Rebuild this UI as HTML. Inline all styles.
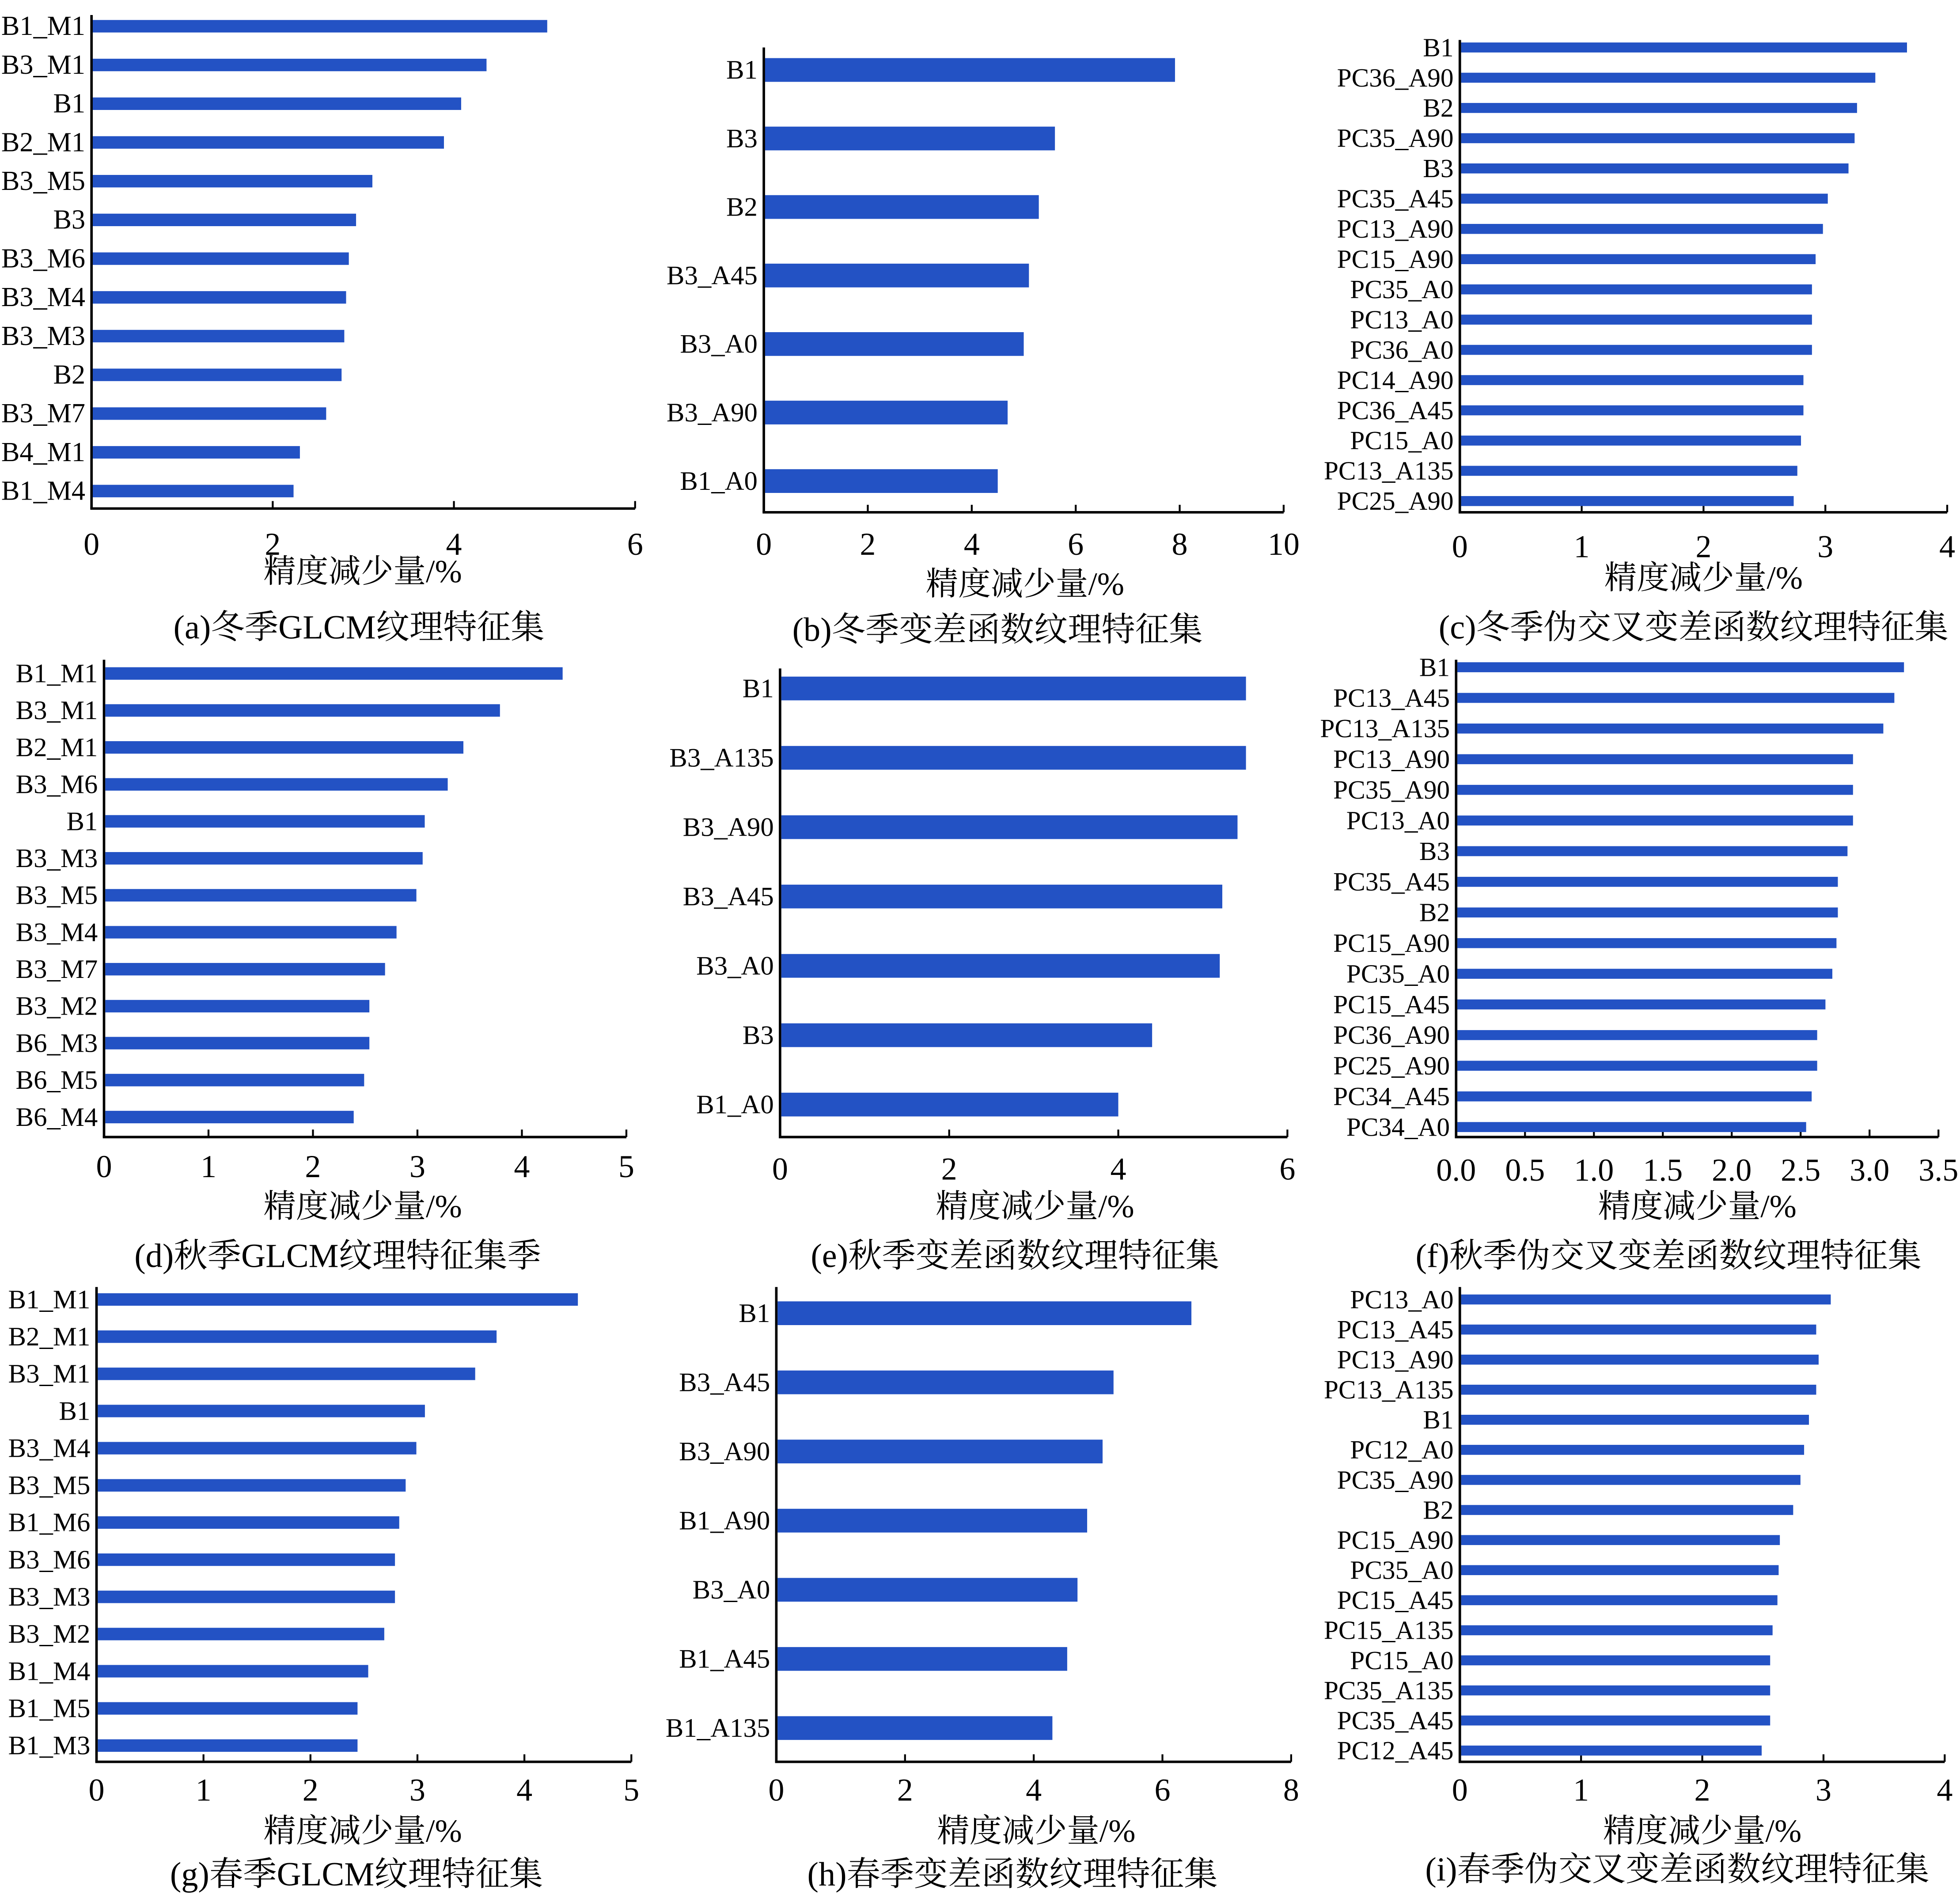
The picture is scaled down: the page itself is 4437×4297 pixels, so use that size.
<!DOCTYPE html>
<html><head><meta charset="utf-8"><style>
html,body{margin:0;padding:0;background:#fff;}
svg{display:block;}
text{font-family:"Liberation Serif","Noto Serif CJK SC",serif;fill:#000;}
</style></head><body>
<svg id="fig" width="4437" height="4297" viewBox="0 0 1568 1519" xmlns="http://www.w3.org/2000/svg"></svg>
<script>
// ---- data ----
const catsA=["B1_M1","B3_M1","B1","B2_M1","B3_M5","B3","B3_M6","B3_M4","B3_M3","B2","B3_M7","B4_M1","B1_M4"];
const valsA=[5.03,4.36,4.08,3.89,3.10,2.92,2.84,2.81,2.79,2.76,2.59,2.30,2.23];
const ticksA=["0","2","4","6"];
const catsB=["B1","B3","B2","B3_A45","B3_A0","B3_A90","B1_A0"];
const valsB=[7.91,5.6,5.29,5.1,5.0,4.69,4.5];
const ticksB=["0","2","4","6","8","10"];
const catsC=["B1","PC36_A90","B2","PC35_A90","B3","PC35_A45","PC13_A90","PC15_A90","PC35_A0","PC13_A0","PC36_A0","PC14_A90","PC36_A45","PC15_A0","PC13_A135","PC25_A90"];
const valsC=[3.67,3.41,3.26,3.24,3.19,3.02,2.98,2.92,2.89,2.89,2.89,2.82,2.82,2.80,2.77,2.74];
const ticksC=["0","1","2","3","4"];
const catsD=["B1_M1","B3_M1","B2_M1","B3_M6","B1","B3_M3","B3_M5","B3_M4","B3_M7","B3_M2","B6_M3","B6_M5","B6_M4"];
const valsD=[4.39,3.79,3.44,3.29,3.07,3.05,2.99,2.80,2.69,2.54,2.54,2.49,2.39];
const ticksD=["0","1","2","3","4","5"];
const catsE=["B1","B3_A135","B3_A90","B3_A45","B3_A0","B3","B1_A0"];
const valsE=[5.51,5.51,5.41,5.23,5.2,4.40,4.0];
const ticksE=["0","2","4","6"];
const catsF=["B1","PC13_A45","PC13_A135","PC13_A90","PC35_A90","PC13_A0","B3","PC35_A45","B2","PC15_A90","PC35_A0","PC15_A45","PC36_A90","PC25_A90","PC34_A45","PC34_A0"];
const valsF=[3.25,3.18,3.10,2.88,2.88,2.88,2.84,2.77,2.77,2.76,2.73,2.68,2.62,2.62,2.58,2.54];
const ticksF=["0.0","0.5","1.0","1.5","2.0","2.5","3.0","3.5"];
const catsG=["B1_M1","B2_M1","B3_M1","B1","B3_M4","B3_M5","B1_M6","B3_M6","B3_M3","B3_M2","B1_M4","B1_M5","B1_M3"];
const valsG=[4.50,3.74,3.54,3.07,2.99,2.89,2.83,2.79,2.79,2.69,2.54,2.44,2.44];
const ticksG=["0","1","2","3","4","5"];
const catsH=["B1","B3_A45","B3_A90","B1_A90","B3_A0","B1_A45","B1_A135"];
const valsH=[6.45,5.24,5.07,4.83,4.68,4.52,4.29];
const ticksH=["0","2","4","6","8"];
const catsI=["PC13_A0","PC13_A45","PC13_A90","PC13_A135","B1","PC12_A0","PC35_A90","B2","PC15_A90","PC35_A0","PC15_A45","PC15_A135","PC15_A0","PC35_A135","PC35_A45","PC12_A45"];
const valsI=[3.06,2.94,2.96,2.94,2.88,2.84,2.81,2.75,2.64,2.63,2.62,2.58,2.56,2.56,2.56,2.49];
const ticksI=["0","1","2","3","4"];

const NS="http://www.w3.org/2000/svg";
const svg=document.getElementById('fig');
function mk(tag,attrs,parent){const e=document.createElementNS(NS,tag);for(const k in attrs)e.setAttribute(k,attrs[k]);(parent||svg).appendChild(e);return e;}

const panels=[
 {id:"a",cats:catsA,vals:valsA,ticks:ticksA,x0:73,x1:508,top:12,bot:407,y0:21,y1:393,bh:10,ty:444,xl:[290,466],cap:[287,511],capT:"(a)冬季GLCM纹理特征集",fs:22},
 {id:"b",cats:catsB,vals:valsB,ticks:ticksB,x0:611,x1:1027,top:38,bot:410,y0:56,y1:385,bh:19,ty:444,xl:[820,476],cap:[798,513],capT:"(b)冬季变差函数纹理特征集",fs:21.5},
 {id:"c",cats:catsC,vals:valsC,ticks:ticksC,x0:1168,x1:1558,top:32,bot:410,y0:38,y1:401,bh:8,ty:446,xl:[1363,471],cap:[1355,511],capT:"(c)冬季伪交叉变差函数纹理特征集",fs:21},
 {id:"d",cats:catsD,vals:valsD,ticks:ticksD,x0:83,x1:501,top:528,bot:910,y0:539,y1:894,bh:10,ty:942,xl:[290,974],cap:[270,1014],capT:"(d)秋季GLCM纹理特征集季",fs:21.5},
 {id:"e",cats:catsE,vals:valsE,ticks:ticksE,x0:624,x1:1030,top:535,bot:910,y0:551,y1:884,bh:19,ty:944,xl:[828,974],cap:[812,1014],capT:"(e)秋季变差函数纹理特征集",fs:21.5},
 {id:"f",cats:catsF,vals:valsF,ticks:ticksF,x0:1165,x1:1551,top:528,bot:910,y0:534,y1:902,bh:8,ty:945,xl:[1358,974],cap:[1335,1014],capT:"(f)秋季伪交叉变差函数纹理特征集",fs:21},
 {id:"g",cats:catsG,vals:valsG,ticks:ticksG,x0:77,x1:505,top:1030,bot:1410,y0:1040,y1:1397,bh:10,ty:1441,xl:[290,1474],cap:[285,1509],capT:"(g)春季GLCM纹理特征集",fs:21.5},
 {id:"h",cats:catsH,vals:valsH,ticks:ticksH,x0:621,x1:1033,top:1030,bot:1410,y0:1051,y1:1383,bh:19,ty:1441,xl:[829,1474],cap:[810,1509],capT:"(h)春季变差函数纹理特征集",fs:21.5},
 {id:"i",cats:catsI,vals:valsI,ticks:ticksI,x0:1168,x1:1556,top:1030,bot:1410,y0:1040,y1:1401,bh:8,ty:1441,xl:[1362,1474],cap:[1342,1505],capT:"(i)春季伪交叉变差函数纹理特征集",fs:21}
];

panels.forEach(p=>{
 const g=mk('g',{});
 
 
 const tmax=parseFloat(p.ticks[p.ticks.length-1]);
 const xs=v=>p.x0+(v/tmax)*(p.x1-p.x0);
 const n=p.cats.length;
 const ys=i=>p.y0+(n>1?i*(p.y1-p.y0)/(n-1):0);
 const ya=mk('line',{x1:p.x0,y1:p.top,x2:p.x0,y2:p.bot,stroke:'#000','stroke-width':2},g);
 
 
 const xa=mk('line',{x1:p.x0-1,y1:p.bot,x2:p.x1,y2:p.bot,stroke:'#000','stroke-width':2},g);
 
 
 p.ticks.forEach((t,k)=>{
  const x=xs(parseFloat(t));
  if(k>0){const tk=mk('line',{x1:x,y1:p.bot,x2:x,y2:p.bot-6,stroke:'#000','stroke-width':1.5},g);
   
   }
  const tl=mk('text',{x:x,y:p.ty,'text-anchor':'middle','font-size':25.5},g);
  tl.textContent=t;
  
  
 });
 p.cats.forEach((c,i)=>{
  const y=ys(i);
  const r=mk('rect',{x:p.x0+1,y:y-p.bh/2,width:xs(p.vals[i])-p.x0-1,height:p.bh,fill:'#2352c4'},g);
  
  
  const l=mk('text',{x:p.x0-5,y:y+7,'text-anchor':'end','font-size':p.fs},g);
  l.textContent=c;
  
  
 });
 const xl=mk('text',{x:p.xl[0],y:p.xl[1],'text-anchor':'middle','font-size':26},g);
 xl.textContent="精度减少量/%";
 
 
 const cp=mk('text',{x:p.cap[0],y:p.cap[1],'text-anchor':'middle','font-size':27},g);
 cp.textContent=p.capT;
 
 
});
</script>
</body></html>
